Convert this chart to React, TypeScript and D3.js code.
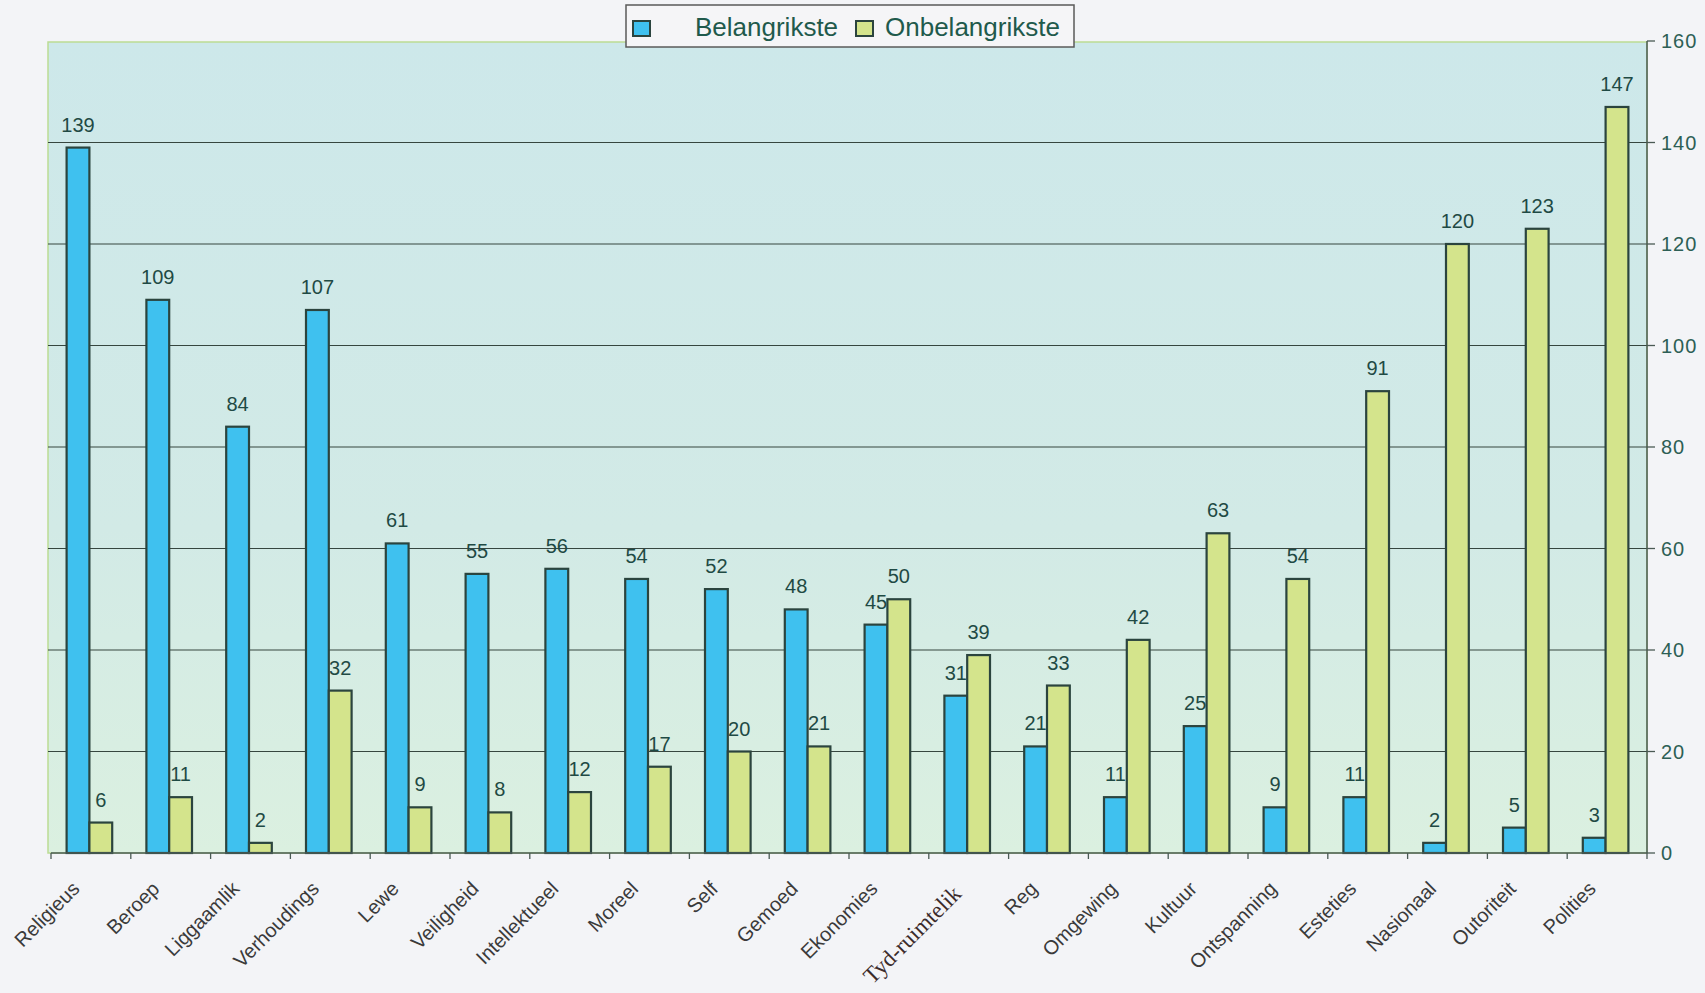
import React from "react";
import * as d3 from "d3";

const categories = [
  "Religieus", "Beroep", "Liggaamlik", "Verhoudings", "Lewe", "Veiligheid",
  "Intellektueel", "Moreel", "Self", "Gemoed", "Ekonomies", "Tyd-ruimtelik",
  "Reg", "Omgewing", "Kultuur", "Ontspanning", "Esteties", "Nasionaal",
  "Outoriteit", "Polities",
];
const belangrikste = [139, 109, 84, 107, 61, 55, 56, 54, 52, 48, 45, 31, 21, 11, 25, 9, 11, 2, 5, 3];
const onbelangrikste = [6, 11, 2, 32, 9, 8, 12, 17, 20, 21, 50, 39, 33, 42, 63, 54, 91, 120, 123, 147];
const yTicks = [0, 20, 40, 60, 80, 100, 120, 140, 160];
const seriesNames = ["Belangrikste", "Onbelangrikste"];

const W = 1705;
const H = 993;
const left = 51;
const right = 1647;
const top = 41;
const bottom = 853;

const BLUE = "#3fc1ef";
const GREEN = "#d4e48c";
const OUTLINE = "#2b443e";
const LABEL = "#1f4a44";

export default function App() {
  const x0 = d3.scaleBand<string>().domain(categories).range([left, right]).paddingInner(0).paddingOuter(0);
  const x1 = d3.scaleBand<string>().domain(seriesNames).range([0, x0.bandwidth()]).paddingInner(0).paddingOuter(0.75);
  const y = d3.scaleLinear().domain([0, 160]).range([bottom, top]);
  const series = [
    { name: seriesNames[0], values: belangrikste, color: BLUE },
    { name: seriesNames[1], values: onbelangrikste, color: GREEN },
  ];
  const bw = x1.bandwidth();

  return (
    <svg width={W} height={H} style={{ position: "absolute", left: 0, top: 0, display: "block" }}
      fontFamily="Liberation Sans, Arial, sans-serif">
      <defs>
        <linearGradient id="plotbg" x1="0" y1="0" x2="0" y2="1">
          <stop offset="0" stopColor="#cde8ea" />
          <stop offset="0.6" stopColor="#d2eae6" />
          <stop offset="1" stopColor="#dbf0e0" />
        </linearGradient>
      </defs>
      <rect x={0} y={0} width={W} height={H} fill="#f3f4f7" />
      {/* plot area */}
      <rect x={48} y={42} width={right - 48} height={bottom - 42} fill="url(#plotbg)" stroke="#bcdc94" strokeWidth={1.5} />
      {/* gridlines */}
      {yTicks.filter((t) => t > 0 && t < 160).map((t) => (
        <line key={"g" + t} x1={48} x2={right} y1={y(t)} y2={y(t)} stroke="#36463f" strokeWidth={1.2} />
      ))}
      {/* right axis */}
      <line x1={right} x2={right} y1={top} y2={bottom} stroke="#4a5a54" strokeWidth={1.5} />
      {yTicks.map((t) => (
        <g key={"t" + t}>
          <line x1={right} x2={right + 8} y1={y(t)} y2={y(t)} stroke="#4a5a54" strokeWidth={1.3} />
          <text x={right + 14} y={y(t)} dy="0.36em" fontSize={20} fill="#2d5f55" letterSpacing={1}>{t}</text>
        </g>
      ))}
      {/* bars */}
      {series.map((s) =>
        s.values.map((v, i) => {
          const bx = (x0(categories[i]) as number) + (x1(s.name) as number) - 1.5;
          return (
            <rect key={s.name + i} x={bx} y={y(v)} width={bw} height={bottom - y(v)}
              fill={s.color} stroke={OUTLINE} strokeWidth={2.2} />
          );
        })
      )}
      {/* value labels */}
      {series.map((s) =>
        s.values.map((v, i) => {
          const cx = (x0(categories[i]) as number) + (x1(s.name) as number) - 1.5 + bw / 2;
          return (
            <text key={"l" + s.name + i} x={cx} y={y(v) - 16} textAnchor="middle" fontSize={20} fill={LABEL}>{v}</text>
          );
        })
      )}
      {/* x axis */}
      <line x1={left} x2={right} y1={bottom} y2={bottom} stroke="#4a5a54" strokeWidth={1.5} />
      {d3.range(categories.length + 1).map((i) => {
        const tx = left + i * x0.step();
        return <line key={"xt" + i} x1={tx} x2={tx} y1={bottom} y2={bottom + 6} stroke="#4a5a54" strokeWidth={1.3} />;
      })}
      {categories.map((c) => {
        const serif = c === "Tyd-ruimtelik";
        const cx = (x0(c) as number) + x0.bandwidth() / 2 - (serif ? 6 : 10);
        const cy = bottom + (serif ? 42 : 37);
        return (
          <text key={"c" + c} x={cx} y={cy} textAnchor="end" transform={`rotate(-45 ${cx} ${cy})`}
            fontSize={serif ? 23 : 20} fill={serif ? "#3b2b2b" : "#3a3a3a"}
            fontFamily={serif ? "Liberation Serif, Times New Roman, serif" : undefined}>{c}</text>
        );
      })}
      {/* legend */}
      <rect x={626} y={5} width={448} height={42} fill="#f5f5f7" stroke="#5a5a5a" strokeWidth={1.5} />
      <rect x={633} y={21} width={17} height={15} fill={BLUE} stroke={OUTLINE} strokeWidth={2} />
      <text x={695} y={36} fontSize={26} fill="#1f5a4c">Belangrikste</text>
      <rect x={856} y={21} width={17} height={15} fill={GREEN} stroke={OUTLINE} strokeWidth={2} />
      <text x={885} y={36} fontSize={26} fill="#1f5a4c">Onbelangrikste</text>
    </svg>
  );
}
